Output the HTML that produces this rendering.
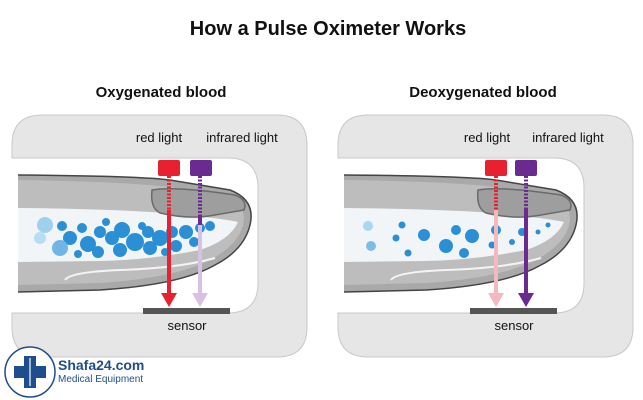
<!DOCTYPE html>
<html><head><meta charset="utf-8"><style>
html,body{margin:0;padding:0;background:#fff}
svg{display:block}
text{font-family:"Liberation Sans",sans-serif}
</style></head><body>
<svg width="643" height="400" viewBox="0 0 643 400" xmlns="http://www.w3.org/2000/svg">
<defs>
<g id="clip">
  <path d="M42,115 H277 Q307,115 307,145 V327 Q307,357 277,357 H42 Q12,357 12,327 V313 H228 Q258,313 258,283 V188 Q258,158 228,158 H12 V145 Q12,115 42,115 Z" fill="#e6e6e6" stroke="#c8c8c8" stroke-width="1"/>
</g>
<g id="finger">
  <path d="M18,175 Q140,176 170,180 L230,190 Q256,200 250,225 Q244,250 215,265 Q180,285 100,290 L18,292 Z" fill="#a9a9a9"/>
  <path d="M18,180 Q140,182 175,188 L225,195 Q248,205 243,225 Q238,245 210,260 Q175,278 100,283 L18,285 Z" fill="#bdbdbd"/>
  <path d="M18,208 Q120,209 180,214 Q225,219 238,222 Q230,240 200,250 Q150,260 100,261 L18,262 Z" fill="#f2f5f7"/>
  <path d="M152,190 Q175,186 235,195 Q248,200 244,210 L215,215 Q190,220 160,213 Q150,208 152,190 Z" fill="#9e9e9e" stroke="#6a6a6a" stroke-width="1.5"/>
  <path d="M65,280 Q70,272 120,270 Q180,268 215,258" fill="none" stroke="#f4f4f4" stroke-width="2"/>
  <path d="M18,175 Q140,176 170,180 L230,190 Q256,200 250,225 Q244,250 215,265 Q180,285 100,290 L18,292" fill="none" stroke="#444" stroke-width="1.5"/>
</g>
</defs>

<text x="328" y="35" font-size="20" font-weight="bold" text-anchor="middle" fill="#111">How a Pulse Oximeter Works</text>
<text x="161" y="97" font-size="15" font-weight="bold" text-anchor="middle" fill="#111">Oxygenated blood</text>
<text x="483" y="97" font-size="15" font-weight="bold" text-anchor="middle" fill="#111">Deoxygenated blood</text>

<!-- LEFT PANEL -->
<use href="#clip"/>
<use href="#finger"/>
<g fill="#2b8fd6">
  <circle cx="45" cy="225" r="8" fill="#9fd0ee"/>
  <circle cx="40" cy="238" r="6" fill="#b8dcf2"/>
  <circle cx="62" cy="226" r="5"/><circle cx="70" cy="238" r="7"/><circle cx="60" cy="248" r="8" fill="#6fb5e6"/>
  <circle cx="82" cy="228" r="5"/><circle cx="88" cy="244" r="8"/><circle cx="100" cy="232" r="6"/>
  <circle cx="98" cy="252" r="6"/><circle cx="112" cy="238" r="7"/><circle cx="122" cy="230" r="8"/>
  <circle cx="120" cy="250" r="7"/><circle cx="135" cy="242" r="9"/><circle cx="148" cy="232" r="6"/>
  <circle cx="150" cy="248" r="7"/><circle cx="160" cy="238" r="8"/><circle cx="172" cy="232" r="6"/>
  <circle cx="176" cy="246" r="6"/><circle cx="186" cy="232" r="7"/><circle cx="194" cy="242" r="5"/>
  <circle cx="200" cy="228" r="5"/><circle cx="210" cy="226" r="5"/><circle cx="78" cy="254" r="4"/>
  <circle cx="106" cy="222" r="4"/><circle cx="142" cy="226" r="4"/><circle cx="165" cy="252" r="4"/>
</g>
<rect x="158" y="160" width="22" height="16" rx="2" fill="#e8202f"/>
<rect x="190" y="160" width="22" height="16" rx="2" fill="#6a2a8f"/>
<line x1="169" y1="176" x2="169" y2="210" stroke="#e8202f" stroke-width="4" stroke-dasharray="2,1.5"/>
<line x1="169" y1="210" x2="169" y2="295" stroke="#e8202f" stroke-width="4"/>
<polygon points="161,293 177,293 169,307" fill="#e8202f"/>
<line x1="200" y1="176" x2="200" y2="215" stroke="#6a2a8f" stroke-width="4" stroke-dasharray="2,1.5"/>
<line x1="200" y1="215" x2="200" y2="225" stroke="#6a2a8f" stroke-width="4"/>
<line x1="200" y1="225" x2="200" y2="295" stroke="#d6c3e3" stroke-width="4"/>
<polygon points="192,293 208,293 200,307" fill="#d6c3e3"/>
<rect x="143" y="308" width="87" height="6" fill="#555"/>
<text x="187" y="330" font-size="13" text-anchor="middle" fill="#111">sensor</text>
<text x="159" y="142" font-size="13" text-anchor="middle" fill="#111">red light</text>
<text x="242" y="142" font-size="13" text-anchor="middle" fill="#111">infrared light</text>

<!-- RIGHT PANEL -->
<g transform="translate(326,0)">
<use href="#clip"/>
<use href="#finger"/>
<g fill="#2b8fd6">
  <circle cx="42" cy="226" r="5" fill="#a9d5f0"/><circle cx="45" cy="246" r="5" fill="#7cbde8"/>
  <circle cx="70" cy="238" r="3.5"/><circle cx="76" cy="225" r="3.5"/><circle cx="82" cy="253" r="3.5"/>
  <circle cx="98" cy="235" r="6"/><circle cx="120" cy="246" r="7"/><circle cx="130" cy="230" r="5"/>
  <circle cx="146" cy="236" r="7"/><circle cx="138" cy="253" r="5"/><circle cx="166" cy="245" r="3.5"/>
  <circle cx="170" cy="230" r="5"/><circle cx="186" cy="242" r="3"/><circle cx="196" cy="232" r="4"/>
  <circle cx="212" cy="232" r="2.5"/><circle cx="222" cy="225" r="2.5"/>
</g>
<rect x="159" y="160" width="22" height="16" rx="2" fill="#e8202f"/>
<rect x="189" y="160" width="22" height="16" rx="2" fill="#6a2a8f"/>
<line x1="170" y1="176" x2="170" y2="210" stroke="#e8202f" stroke-width="4" stroke-dasharray="2,1.5"/>
<line x1="170" y1="210" x2="170" y2="295" stroke="#f4b9bf" stroke-width="4"/>
<polygon points="162,293 178,293 170,307" fill="#f4b9bf"/>
<line x1="200" y1="176" x2="200" y2="208" stroke="#6a2a8f" stroke-width="4" stroke-dasharray="2,1.5"/>
<line x1="200" y1="208" x2="200" y2="295" stroke="#6a2a8f" stroke-width="4"/>
<polygon points="192,293 208,293 200,307" fill="#6a2a8f"/>
<rect x="144" y="308" width="87" height="6" fill="#555"/>
<text x="188" y="330" font-size="13" text-anchor="middle" fill="#111">sensor</text>
<text x="161" y="142" font-size="13" text-anchor="middle" fill="#111">red light</text>
<text x="242" y="142" font-size="13" text-anchor="middle" fill="#111">infrared light</text>
</g>

<!-- LOGO -->
<circle cx="30" cy="372" r="25" fill="#fff" stroke="#1f4e8c" stroke-width="1.5"/>
<path d="M24,356 h12 v10 h10 v12 h-10 v10 h-12 v-10 h-10 v-12 h10 z" fill="#1f4e8c"/>
<line x1="30" y1="358" x2="30" y2="386" stroke="#fff" stroke-width="1.2"/>
<text x="58" y="370" font-size="14" font-weight="bold" fill="#1f4e8c">Shafa24.com</text>
<text x="58" y="382" font-size="10" fill="#1f4e8c">Medical Equipment</text>
</svg>
</body></html>
